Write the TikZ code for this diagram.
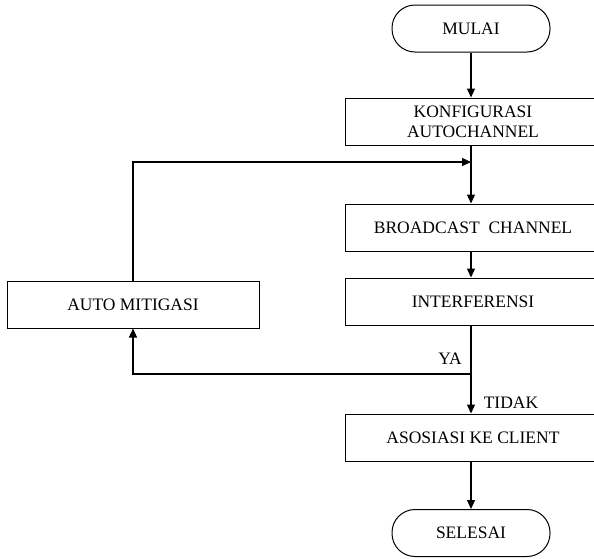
\documentclass[tikz,border=0pt]{standalone}
\usepackage{fontspec}
\setmainfont{Liberation Serif}
\usetikzlibrary{arrows.meta}
\begin{document}
\begin{tikzpicture}[x=1pt,y=-1pt,
  box/.style={draw,line width=1pt,minimum width=256pt,minimum height=47pt,inner sep=0pt,align=center,font=\fontsize{17.5}{20}\selectfont},
  term/.style={draw,line width=1pt,rounded corners=23pt,minimum width=158pt,minimum height=47pt,inner sep=0pt,font=\fontsize{17.5}{20}\selectfont},
  arr/.style={line width=1.1pt,-{Triangle[length=9pt,width=8pt]}},
  lbl/.style={font=\fontsize{17.5}{20}\selectfont,inner sep=0pt}]
\useasboundingbox (0,0) rectangle (594,558);
\fill[white] (0,0) rectangle (594,558);
\clip (0,0) rectangle (594,558);
\node[term] (mulai) at (471,28.5) {MULAI};
\node[box] (konfig) at (473,121.5) {KONFIGURASI\\AUTOCHANNEL};
\node[box] (broad) at (473,227.5) {BROADCAST\ \ CHANNEL};
\node[box] (interf) at (473,301.5) {INTERFERENSI};
\node[box] (asos) at (473,437.5) {ASOSIASI KE CLIENT};
\node[term] (selesai) at (471,533) {SELESAI};
\node[box,minimum width=252pt] (auto) at (133,304.5) {AUTO MITIGASI};
\coordinate (join) at (471,162);
\coordinate (ya) at (471,374);
\draw[arr] (mulai.south) -- (mulai.south |- konfig.north);
\draw[arr] (mulai.south |- konfig.south) -- (mulai.south |- broad.north);
\draw[arr] (auto.north) |- (join);
\draw[arr] (mulai.south |- broad.south) -- (mulai.south |- interf.north);
\draw[arr] (mulai.south |- interf.south) -- (mulai.south |- asos.north);
\draw[arr] (ya) -| (auto.south);
\draw[arr] (mulai.south |- asos.south) -- (selesai.north);
\node[lbl] (yalbl) at (450,359) {YA};
\node[lbl] (tidak) at (511,403) {TIDAK};
\end{tikzpicture}
\end{document}
